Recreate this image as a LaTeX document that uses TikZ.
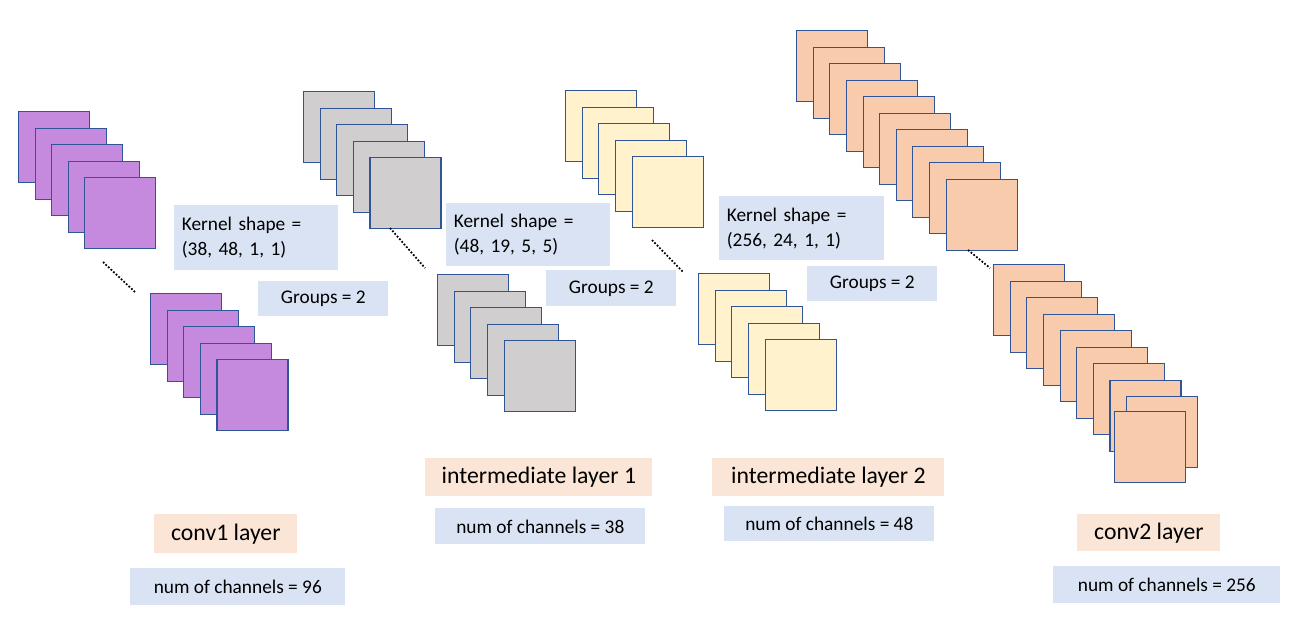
\documentclass[tikz,border=0pt]{standalone}
\usepackage{fontspec}
\setmainfont{Carlito}
\usetikzlibrary{positioning}

\definecolor{edge}{RGB}{47,85,151}
\definecolor{purp}{RGB}{197,137,222}
\definecolor{grey}{RGB}{208,206,206}
\definecolor{cream}{RGB}{255,242,204}
\definecolor{peach}{RGB}{248,203,173}
\definecolor{infobg}{RGB}{218,227,243}
\definecolor{titlebg}{RGB}{251,229,214}

\tikzset{
    map/.style={draw=edge, line width=0.6pt, minimum size=1.42cm, inner sep=0pt, anchor=north west},
    info/.style={fill=infobg, font=\fontsize{11}{14}\selectfont, align=left, inner sep=0pt, anchor=north west},
    title/.style={fill=titlebg, font=\fontsize{13.5}{16}\selectfont, inner sep=0pt, anchor=north west},
    gap/.style={densely dotted, line width=1pt}
}

% stack of feature maps: name, x, y, count, colour (pixel units)
\newcommand{\mapstack}[5]{
    \foreach \i in {1,...,#4} {
        \node[map, fill=#5] (#1\i) at ({(#2+16.6*(\i-1))*0.02}, {-(#3+16.5*(\i-1))*0.02}) {};
    }
}

\begin{document}
\begin{tikzpicture}

    \useasboundingbox (0,0) rectangle (25.92,-12.58);

    % conv1 layer
    \mapstack{pa}{18}{111}{5}{purp}
    \mapstack{pb}{150}{293}{5}{purp}

    % intermediate layer 1
    \mapstack{ga}{303}{91}{5}{grey}
    \mapstack{gb}{437}{274}{5}{grey}

    % intermediate layer 2
    \mapstack{ya}{565}{90}{5}{cream}
    \mapstack{yb}{698}{273}{5}{cream}

    % conv2 layer
    \mapstack{oa}{796}{30}{10}{peach}
    \mapstack{ob}{993}{264}{9}{peach}
    \node[map, fill=peach] (ob10) at (22.28,-8.22) {};

    % dotted gaps
    \coordinate (pg1) at (2.06,-5.24); \coordinate (pg2) at (2.70,-5.84);
    \coordinate (gg1) at (7.80,-4.56); \coordinate (gg2) at (8.50,-5.36);
    \coordinate (yg1) at (13.04,-4.80); \coordinate (yg2) at (13.66,-5.44);
    \coordinate (og1) at (19.36,-5.00); \coordinate (og2) at (19.80,-5.36);
    \draw[gap] (pg1) -- (pg2);
    \draw[gap] (gg1) -- (gg2);
    \draw[gap] (yg1) -- (yg2);
    \draw[gap] (og1) -- (og2);

    % kernel and group boxes
    \node[info, minimum width=3.28cm, minimum height=1.30cm, text width=2.98cm] (k1) at (3.48,-4.10) {Kernel shape =\\(38, 48, 1, 1)};
    \node[info, minimum width=2.60cm, minimum height=0.70cm, align=center] (g1) at (5.16,-5.62) {Groups = 2};
    \node[info, minimum width=3.28cm, minimum height=1.26cm, text width=2.98cm] (k2) at (8.92,-4.06) {Kernel shape =\\(48, 19, 5, 5)};
    \node[info, minimum width=2.60cm, minimum height=0.72cm, align=center] (g2) at (10.92,-5.40) {Groups = 2};
    \node[info, minimum width=3.30cm, minimum height=1.28cm, text width=3.00cm] (k3) at (14.38,-3.92) {Kernel shape =\\(256, 24, 1, 1)};
    \node[info, minimum width=2.60cm, minimum height=0.70cm, align=center] (g3) at (16.14,-5.32) {Groups = 2};

    % layer titles and channel counts
    \node[title, minimum width=2.86cm, minimum height=0.78cm] (t1) at (3.08,-10.28) {conv1 layer};
    \node[info, minimum width=4.30cm, minimum height=0.74cm, align=center] (c1) at (2.60,-11.36) {num of channels = 96};
    \node[title, minimum width=4.54cm, minimum height=0.76cm] (t2) at (8.50,-9.16) {intermediate layer 1};
    \node[info, minimum width=4.20cm, minimum height=0.72cm, align=center] (c2) at (8.70,-10.16) {num of channels = 38};
    \node[title, minimum width=4.64cm, minimum height=0.76cm] (t3) at (14.24,-9.16) {intermediate layer 2};
    \node[info, minimum width=4.20cm, minimum height=0.70cm, align=center] (c3) at (14.48,-10.12) {num of channels = 48};
    \node[title, minimum width=2.86cm, minimum height=0.74cm] (t4) at (21.54,-10.28) {conv2 layer};
    \node[info, minimum width=4.54cm, minimum height=0.74cm, align=center] (c4) at (21.06,-11.32) {num of channels = 256};

\end{tikzpicture}
\end{document}
